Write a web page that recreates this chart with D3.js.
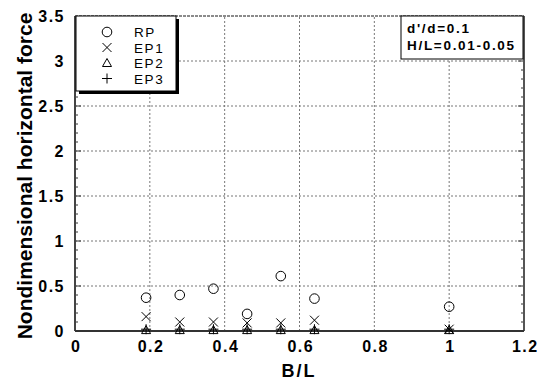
<!DOCTYPE html>
<html>
<head>
<meta charset="utf-8">
<script src="https://cdn.jsdelivr.net/npm/d3@7"></script>
<style>
  body { margin: 0; background: #fff; }
  svg { display: block; font-family: "Liberation Sans", Arial, sans-serif; }
</style>
</head>
<body>
<svg id="chart" width="538" height="383"></svg>
<script>
// B/L ratios tested
const ratios = [0.19, 0.28, 0.37, 0.46, 0.55, 0.64, 1.0];
// Nondimensional horizontal force for each configuration
const rpValues  = [0.37, 0.40, 0.47, 0.19, 0.61, 0.36, 0.27];
const ep1Values = [0.16, 0.10, 0.10, 0.09, 0.09, 0.12, 0.02];
const ep2Values = [0.01, 0.01, 0.01, 0.01, 0.01, 0.01, 0.01];
const ep3Values = [0.02, 0.02, 0.02, 0.02, 0.02, 0.02, 0.02];
const seriesNames = ["RP", "EP1", "EP2", "EP3"];
const xTicks = [0, 0.2, 0.4, 0.6, 0.8, 1, 1.2];
const yTicks = [0, 0.5, 1, 1.5, 2, 2.5, 3, 3.5];
const noteLines = ["d'/d=0.1", "H/L=0.01-0.05"];

const svg = d3.select("#chart");
const margin = { left: 75, right: 14, top: 16, bottom: 52 };
const W = 538, H = 383;
const x = d3.scaleLinear().domain([0, 1.2]).range([margin.left, W - margin.right]);
const y = d3.scaleLinear().domain([0, 3.5]).range([H - margin.bottom, margin.top]);
const FONT = "Liberation Sans, Arial, sans-serif";

// dotted grid
const grid = svg.append("g").attr("stroke", "#777").attr("stroke-width", 1).attr("stroke-dasharray", "2,2");
xTicks.slice(1, -1).forEach(v => grid.append("line")
  .attr("x1", x(v)).attr("x2", x(v)).attr("y1", y(0)).attr("y2", y(3.5)));
yTicks.slice(1, -1).forEach(v => grid.append("line")
  .attr("x1", x(0)).attr("x2", x(1.2)).attr("y1", y(v)).attr("y2", y(v)));

// minor ticks on left and right axes
const minor = d3.range(0, 35).map(i => i / 10);
const tk = svg.append("g").attr("stroke", "#333").attr("stroke-width", 1);
minor.forEach(v => {
  const major = Math.abs(v * 2 - Math.round(v * 2)) < 1e-6;
  const len = major ? 6 : 3;
  tk.append("line").attr("x1", x(0)).attr("x2", x(0) + len).attr("y1", y(v)).attr("y2", y(v));
  tk.append("line").attr("x1", x(1.2)).attr("x2", x(1.2) - len).attr("y1", y(v)).attr("y2", y(v));
});

// frame
svg.append("line").attr("x1", x(0)).attr("x2", x(1.2)).attr("y1", y(3.5)).attr("y2", y(3.5))
  .attr("stroke", "#666").attr("stroke-width", 1.5).attr("stroke-dasharray", "3,1");
svg.append("line").attr("x1", x(1.2)).attr("x2", x(1.2)).attr("y1", y(3.5)).attr("y2", y(0))
  .attr("stroke", "#555").attr("stroke-width", 2);
svg.append("line").attr("x1", x(0)).attr("x2", x(0)).attr("y1", y(3.5)).attr("y2", y(0))
  .attr("stroke", "#444").attr("stroke-width", 2);
svg.append("line").attr("x1", x(0)).attr("x2", x(1.2)).attr("y1", y(0)).attr("y2", y(0))
  .attr("stroke", "#333").attr("stroke-width", 2);

// tick labels
const xAxis = d3.axisBottom(x).tickValues(xTicks).tickSize(0).tickPadding(10)
  .tickFormat(d => String(d));
svg.append("g").attr("transform", `translate(0,${y(0)})`).call(xAxis)
  .call(g => g.select(".domain").remove())
  .selectAll("text").attr("font-size", 16).attr("font-weight", "bold")
  .attr("letter-spacing", 1.5).attr("dx", "0.75").attr("fill", "#000")
  .attr("font-family", FONT);

const yAxis = d3.axisLeft(y).tickValues(yTicks).tickSize(0).tickPadding(10)
  .tickFormat(d => String(d));
svg.append("g").attr("transform", `translate(${x(0)},0)`).call(yAxis)
  .call(g => g.select(".domain").remove())
  .selectAll("text").attr("font-size", 16).attr("font-weight", "bold")
  .attr("letter-spacing", 1.5).attr("fill", "#000")
  .attr("font-family", FONT);

// axis titles
svg.append("text").attr("x", 299).attr("y", 377).attr("text-anchor", "middle")
  .attr("font-size", 18).attr("font-weight", "bold").attr("letter-spacing", 2).text("B/L");
svg.append("text").attr("transform", `translate(32,176) rotate(-90)`)
  .attr("text-anchor", "middle").attr("font-size", 21).attr("font-weight", "bold")
  .text("Nondimensional horizontal force");

// marker shapes
const sym = {
  RP:  g => g.append("circle").attr("r", 4.8).attr("fill", "none"),
  EP1: g => g.append("path").attr("d", "M-4.5,-4.5L4.5,4.5M-4.5,4.5L4.5,-4.5"),
  EP2: g => g.append("path").attr("d", "M0,-4.5L4.5,3.5L-4.5,3.5Z").attr("fill", "none"),
  EP3: g => g.append("path").attr("d", "M-5,0L5,0M0,-5L0,5")
};
const seriesValues = [rpValues, ep1Values, ep2Values, ep3Values];

const marks = svg.append("g").attr("stroke", "#000").attr("stroke-width", 1).attr("fill", "none");
seriesNames.forEach((name, si) => {
  ratios.forEach((r, i) => {
    const g = marks.append("g").attr("transform", `translate(${x(r)},${y(seriesValues[si][i])})`);
    sym[name](g);
  });
});

// legend with drop shadow
const lg = svg.append("g");
const lx = 76, ly = 16, lw = 100, lh = 75;
lg.append("rect").attr("x", lx + 3).attr("y", ly + 3).attr("width", lw).attr("height", lh).attr("fill", "#000");
lg.append("rect").attr("x", lx).attr("y", ly).attr("width", lw).attr("height", lh)
  .attr("fill", "#fff").attr("stroke", "#000").attr("stroke-width", 1);
seriesNames.forEach((name, i) => {
  const cy = ly + 16 + i * 15.5;
  const g = lg.append("g").attr("transform", `translate(107,${cy})`)
    .attr("stroke", "#000").attr("stroke-width", 1).attr("fill", "none");
  sym[name](g);
  lg.append("text").attr("x", 134).attr("y", cy + 5).attr("font-size", 13.5)
    .attr("letter-spacing", 1.6).attr("fill", "#000").text(name);
});

// condition note
const nx = 401, ny = 16, nw = 122, nh = 43;
svg.append("rect").attr("x", nx).attr("y", ny).attr("width", nw).attr("height", nh)
  .attr("fill", "#fff").attr("stroke", "#000").attr("stroke-width", 1);
noteLines.forEach((t, i) => {
  svg.append("text").attr("x", nx + 6).attr("y", ny + 17 + i * 17).attr("font-size", 13.5)
    .attr("font-weight", "bold").attr("letter-spacing", 1.7).attr("fill", "#000").text(t);
});
</script>
</body>
</html>
